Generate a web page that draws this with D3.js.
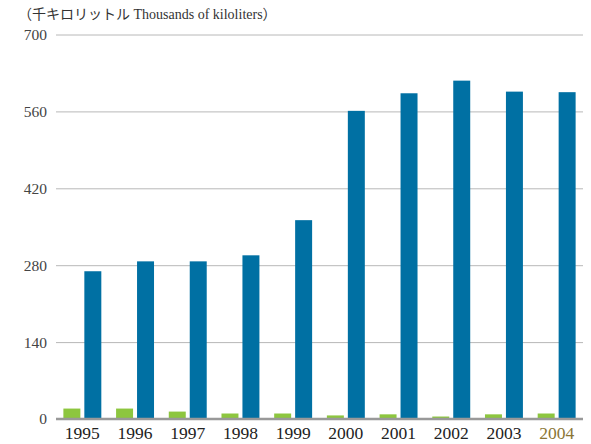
<!DOCTYPE html>
<html>
<head>
<meta charset="utf-8">
<script src="https://cdn.jsdelivr.net/npm/d3@7"></script>
<style>
  body { margin: 0; background: #fff; }
  svg { display: block; }
</style>
</head>
<body>
<script>
// values (thousands of kiloliters)
var years = ["1995","1996","1997","1998","1999","2000","2001","2002","2003","2004"];
var greenValues = [19, 19, 13.5, 10, 10, 6.5, 8.5, 4.5, 8.5, 10];
var blueValues = [269, 287, 287, 298, 362, 561, 593, 616, 596, 595];
var yTicks = [0, 140, 280, 420, 560, 700];
var seriesKeys = ["green", "blue"];
var colors = { green: "#8dc63f", blue: "#0070a3" };

var serif = "'Liberation Serif', 'Times New Roman', 'DejaVu Serif', serif";

var w = 591, h = 444;
var plotLeft = 56, plotRight = 583, plotTop = 34.5, plotBottom = 419;

var svg = d3.select("body").append("svg")
    .attr("width", w).attr("height", h);

var x = d3.scaleBand().domain(years).range([plotLeft, plotRight])
    .paddingInner(0.28).paddingOuter(0.14);
var xs = d3.scaleBand().domain(seriesKeys).range([0, x.bandwidth()])
    .paddingInner(0.19);
var y = d3.scaleLinear().domain([0, 700]).range([plotBottom, plotTop]);

// title
svg.append("text")
    .attr("x", 18).attr("y", 19)
    .style("font-family", serif + ", 'Noto Sans CJK JP'")
    .style("font-size", "14px")
    .attr("fill", "#333")
    .text("（千キロリットル Thousands of kiloliters）");

// gridlines
var yAxis = svg.append("g")
    .attr("transform", "translate(" + plotLeft + ",0)")
    .call(d3.axisLeft(y).tickValues(yTicks).tickSize(-(plotRight - plotLeft)).tickPadding(9));
yAxis.select(".domain").remove();
yAxis.selectAll(".tick line").attr("stroke", "#b8b8b8").attr("stroke-width", 1);
yAxis.selectAll(".tick text")
    .style("font-family", serif)
    .style("font-size", "15.5px")
    .attr("fill", "#444");

// bars
var groups = svg.append("g").selectAll("g")
    .data(years)
    .enter().append("g")
    .attr("transform", function(d) { return "translate(" + x(d) + ",0)"; });

groups.selectAll("rect")
    .data(function(d, i) {
        return [{ key: "green", value: greenValues[i] }, { key: "blue", value: blueValues[i] }];
    })
    .enter().append("rect")
    .attr("x", function(d) { return xs(d.key); })
    .attr("width", xs.bandwidth())
    .attr("y", function(d) { return y(d.value); })
    .attr("height", function(d) { return y(0) - y(d.value); })
    .attr("fill", function(d) { return colors[d.key]; });

// baseline
svg.append("line")
    .attr("x1", plotLeft).attr("x2", plotRight)
    .attr("y1", y(0)).attr("y2", y(0))
    .attr("stroke", "#999").attr("stroke-width", 2.5);

// x labels
var xAxis = svg.append("g")
    .attr("transform", "translate(0," + plotBottom + ")")
    .call(d3.axisBottom(x).tickSize(0).tickPadding(8));
xAxis.select(".domain").remove();
xAxis.selectAll(".tick text")
    .style("font-family", serif)
    .style("font-size", "17.5px")
    .attr("fill", function(d) { return d === "2004" ? "#8a7535" : "#222"; });
</script>
</body>
</html>
